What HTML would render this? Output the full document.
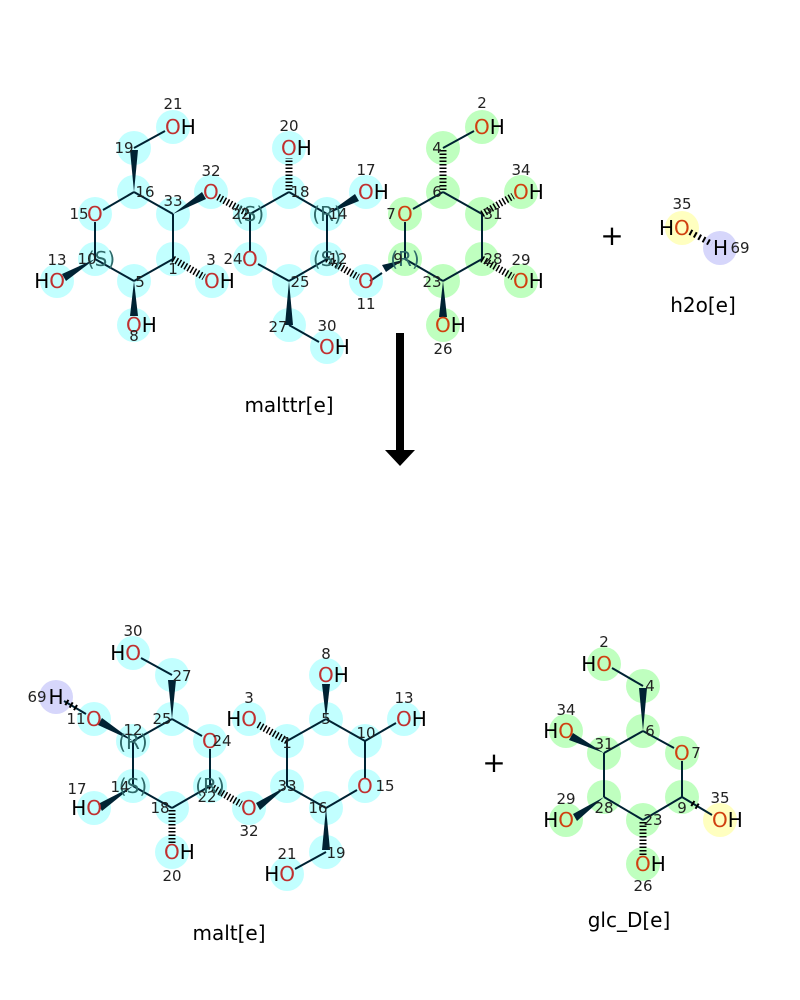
<!DOCTYPE html>
<html><head><meta charset="utf-8"><style>
body{margin:0;background:#fff}
svg{display:block}
text{font-family:"DejaVu Sans","Liberation Sans",sans-serif}
.n{font-size:15px;fill:#222;text-anchor:middle}
.a{font-size:20px;fill:#000}
.st{font-size:20px;fill:#2f6a6a;text-anchor:middle}
.o{fill:#c03030}
.og{fill:#d04010}
.c{fill:#c2ffff}
.g{fill:#bfffbf}
line,polyline{stroke:#023;stroke-width:2;fill:none}
.h{stroke:#000;stroke-width:7;stroke-dasharray:1.5 2}
polygon{fill:#023}
.t{font-size:20px;fill:#000;text-anchor:middle}
</style></head><body>
<svg width="800" height="1000" viewBox="0 0 800 1000">
<g class="c">
<circle cx="173" cy="127" r="17"/><circle cx="134" cy="148" r="17"/><circle cx="134" cy="192" r="17"/><circle cx="173" cy="214" r="17"/><circle cx="95" cy="214" r="17"/><circle cx="95" cy="259" r="17"/><circle cx="173" cy="259" r="17"/><circle cx="134" cy="281" r="17"/><circle cx="57" cy="281" r="17"/><circle cx="212" cy="281" r="17"/><circle cx="134" cy="325" r="17"/><circle cx="211" cy="192" r="17"/><circle cx="250" cy="214" r="17"/><circle cx="289" cy="192" r="17"/><circle cx="289" cy="148" r="17"/><circle cx="327" cy="214" r="17"/><circle cx="366" cy="192" r="17"/><circle cx="250" cy="259" r="17"/><circle cx="327" cy="259" r="17"/><circle cx="289" cy="281" r="17"/><circle cx="366" cy="281" r="17"/><circle cx="289" cy="325" r="17"/><circle cx="327" cy="347" r="17"/>
</g>
<g class="g">
<circle cx="405" cy="214" r="17"/><circle cx="405" cy="259" r="17"/><circle cx="443" cy="192" r="17"/><circle cx="443" cy="148" r="17"/><circle cx="482" cy="127" r="17"/><circle cx="482" cy="214" r="17"/><circle cx="521" cy="192" r="17"/><circle cx="482" cy="259" r="17"/><circle cx="521" cy="281" r="17"/><circle cx="443" cy="281" r="17"/><circle cx="443" cy="325" r="17"/>
</g>
<circle cx="682" cy="228" r="17" fill="#ffffc0"/><circle cx="720" cy="248" r="17" fill="#d6d6fb"/>
<line x1="134" y1="148" x2="165" y2="131"/>
<line x1="134" y1="192" x2="173" y2="214"/><line x1="134" y1="192" x2="103" y2="210"/>
<line x1="95" y1="222" x2="95" y2="259"/><line x1="95" y1="259" x2="134" y2="281"/>
<line x1="134" y1="281" x2="173" y2="259"/><line x1="173" y1="259" x2="173" y2="214"/>
<line x1="250" y1="214" x2="289" y2="192"/><line x1="250" y1="214" x2="250" y2="251"/>
<line x1="289" y1="192" x2="327" y2="214"/><line x1="327" y1="214" x2="327" y2="259"/>
<line x1="258" y1="264" x2="289" y2="281"/><line x1="289" y1="281" x2="327" y2="259"/>
<line x1="289" y1="325" x2="319" y2="342"/>
<line x1="405" y1="222" x2="405" y2="259"/><line x1="413" y1="209" x2="443" y2="192"/>
<line x1="443" y1="148" x2="474" y2="131"/><line x1="443" y1="192" x2="482" y2="214"/>
<line x1="482" y1="214" x2="482" y2="259"/><line x1="482" y1="259" x2="443" y2="281"/><line x1="443" y1="281" x2="405" y2="259"/>
<polygon points="134,192 130,150 138,150"/>
<polygon points="173,214 202,192 206,199"/>
<polygon points="95,259 62,274 66,281"/>
<polygon points="134,281 130,316 138,316"/>
<polygon points="327,214 355,194 359,201"/>
<polygon points="289,281 285,325 293,325"/>
<polygon points="403,260 382,265 386,272"/>
<polygon points="443,281 439,317 447,317"/>
<line class="h" x1="218" y1="197" x2="247" y2="213"/>
<line class="h" x1="289" y1="190" x2="289" y2="158"/>
<line class="h" x1="173" y1="259" x2="204" y2="277"/>
<line class="h" x1="443" y1="190" x2="443" y2="150"/>
<line class="h" x1="482" y1="214" x2="513" y2="196"/>
<line class="h" x1="482" y1="259" x2="513" y2="277"/>
<line class="h" x1="327" y1="259" x2="358" y2="277"/>
<line x1="370" y1="281" x2="382" y2="273"/>
<line class="h" x1="690" y1="232" x2="712" y2="244" style="stroke-width:6;stroke-dasharray:2 3"/>
<g class="a">
<text x="165" y="134"><tspan class="o">O</tspan>H</text>
<text x="87" y="221" class="o">O</text>
<text x="65" y="288" text-anchor="end">H<tspan class="o">O</tspan></text>
<text x="204" y="288"><tspan class="o">O</tspan>H</text>
<text x="126" y="332"><tspan class="o">O</tspan>H</text>
<text x="203" y="199" class="o">O</text>
<text x="281" y="155"><tspan class="o">O</tspan>H</text>
<text x="358" y="199"><tspan class="o">O</tspan>H</text>
<text x="242" y="266" class="o">O</text>
<text x="358" y="288" class="o">O</text>
<text x="319" y="354"><tspan class="o">O</tspan>H</text>
<text x="474" y="134"><tspan class="og">O</tspan>H</text>
<text x="397" y="221" class="og">O</text>
<text x="513" y="199"><tspan class="og">O</tspan>H</text>
<text x="513" y="288"><tspan class="og">O</tspan>H</text>
<text x="435" y="332"><tspan class="og">O</tspan>H</text>
<text x="674" y="235" text-anchor="end">H</text><text x="674" y="235" class="og">O</text>
<text x="713" y="255">H</text>
</g>
<g class="st">
<text x="101" y="266">(S)</text><text x="250" y="221">(S)</text><text x="327" y="221">(R)</text><text x="327" y="266">(S)</text><text x="405" y="266">(R)</text>
</g>
<g class="n">
<text x="173" y="109">21</text><text x="124" y="153">19</text><text x="145" y="197">16</text><text x="173" y="206">33</text><text x="79" y="219">15</text><text x="87" y="264">10</text><text x="57" y="265">13</text><text x="173" y="274">1</text><text x="211" y="265">3</text><text x="140" y="287">5</text><text x="134" y="341">8</text><text x="211" y="176">32</text><text x="241" y="219">22</text><text x="300" y="197">18</text><text x="289" y="131">20</text><text x="338" y="219">14</text><text x="366" y="175">17</text><text x="233" y="264">24</text><text x="338" y="264">12</text><text x="300" y="287">25</text><text x="366" y="309">11</text><text x="278" y="332">27</text><text x="327" y="331">30</text>
<text x="482" y="108">2</text><text x="437" y="153">4</text><text x="437" y="197">6</text><text x="521" y="175">34</text><text x="493" y="219">31</text><text x="391" y="219">7</text><text x="398" y="264">9</text><text x="493" y="264">28</text><text x="521" y="265">29</text><text x="432" y="287">23</text><text x="443" y="354">26</text><text x="682" y="209">35</text><text x="740" y="253">69</text>
</g>
<text class="t" x="612" y="245" style="font-size:28px">+</text>
<text class="t" x="289" y="412">malttr[e]</text>
<text class="t" x="703" y="312">h2o[e]</text>
<rect x="396" y="333" width="8" height="118" fill="#000"/>
<polygon points="385,450 415,450 400,466" style="fill:#000"/>
<g class="c">
<circle cx="133" cy="653" r="17"/><circle cx="172" cy="675" r="17"/><circle cx="94" cy="719" r="17"/><circle cx="172" cy="719" r="17"/><circle cx="133" cy="741" r="17"/><circle cx="210" cy="741" r="17"/><circle cx="133" cy="786" r="17"/><circle cx="210" cy="786" r="17"/><circle cx="172" cy="808" r="17"/><circle cx="94" cy="808" r="17"/><circle cx="172" cy="852" r="17"/><circle cx="249" cy="808" r="17"/><circle cx="249" cy="719" r="17"/><circle cx="287" cy="741" r="17"/><circle cx="326" cy="719" r="17"/><circle cx="326" cy="675" r="17"/><circle cx="365" cy="741" r="17"/><circle cx="404" cy="719" r="17"/><circle cx="287" cy="786" r="17"/><circle cx="326" cy="808" r="17"/><circle cx="365" cy="786" r="17"/><circle cx="326" cy="852" r="17"/><circle cx="287" cy="874" r="17"/>
</g>
<circle cx="56" cy="697" r="17" fill="#d6d6fb"/>
<g class="g">
<circle cx="604" cy="664" r="17"/><circle cx="643" cy="686" r="17"/><circle cx="643" cy="731" r="17"/><circle cx="604" cy="753" r="17"/><circle cx="566" cy="731" r="17"/><circle cx="682" cy="753" r="17"/><circle cx="682" cy="797" r="17"/><circle cx="604" cy="797" r="17"/><circle cx="566" cy="820" r="17"/><circle cx="643" cy="820" r="17"/><circle cx="643" cy="864" r="17"/>
</g>
<circle cx="720" cy="820" r="17" fill="#ffffc0"/>
<line x1="141" y1="658" x2="172" y2="675"/>
<line x1="172" y1="719" x2="133" y2="741"/><line x1="172" y1="719" x2="202" y2="736"/>
<line x1="210" y1="749" x2="210" y2="786"/><line x1="133" y1="741" x2="133" y2="786"/>
<line x1="133" y1="786" x2="172" y2="808"/><line x1="172" y1="808" x2="210" y2="786"/>
<line x1="287" y1="786" x2="287" y2="741"/><line x1="287" y1="741" x2="326" y2="719"/><line x1="326" y1="719" x2="365" y2="741"/>
<line x1="365" y1="741" x2="396" y2="723"/><line x1="365" y1="741" x2="365" y2="778"/><line x1="357" y1="790" x2="326" y2="808"/>
<line x1="287" y1="786" x2="326" y2="808"/><line x1="326" y1="852" x2="295" y2="869"/>
<line x1="64" y1="701" x2="86" y2="714"/>
<polygon points="172,719 168,680 176,680"/>
<polygon points="133,741 102,718 98,725"/>
<polygon points="133,786 98,804 102,811"/>
<polygon points="287,786 256,803 260,810"/>
<polygon points="326,719 322,684 330,684"/>
<polygon points="326,808 322,850 330,850"/>
<line class="h" x1="172" y1="810" x2="172" y2="843"/>
<line class="h" x1="210" y1="786" x2="241" y2="804"/>
<line class="h" x1="287" y1="741" x2="257" y2="724"/>
<line class="h" x1="66" y1="702" x2="78" y2="709" style="stroke-width:6;stroke-dasharray:2 3"/>
<line x1="612" y1="668" x2="643" y2="686"/>
<line x1="643" y1="731" x2="604" y2="753"/><line x1="643" y1="731" x2="674" y2="748"/>
<line x1="604" y1="753" x2="604" y2="797"/><line x1="604" y1="797" x2="643" y2="820"/><line x1="643" y1="820" x2="682" y2="797"/><line x1="682" y1="797" x2="682" y2="761"/>
<line x1="682" y1="797" x2="712" y2="815"/>
<polygon points="643,731 639,688 647,688"/>
<polygon points="604,753 573,733 569,740"/>
<polygon points="604,797 573,814 577,821"/>
<line class="h" x1="643" y1="822" x2="643" y2="856"/>
<line class="h" x1="692" y1="803" x2="700" y2="808" style="stroke-width:6;stroke-dasharray:2 3"/>
<g class="a">
<text x="141" y="660" text-anchor="end">H<tspan class="o">O</tspan></text>
<text x="56" y="704" text-anchor="middle">H</text>
<text x="86" y="726" class="o">O</text>
<text x="202" y="748" class="o">O</text>
<text x="102" y="815" text-anchor="end">H<tspan class="o">O</tspan></text>
<text x="164" y="859"><tspan class="o">O</tspan>H</text>
<text x="241" y="815" class="o">O</text>
<text x="257" y="726" text-anchor="end">H<tspan class="o">O</tspan></text>
<text x="318" y="682"><tspan class="o">O</tspan>H</text>
<text x="396" y="726"><tspan class="o">O</tspan>H</text>
<text x="357" y="793" class="o">O</text>
<text x="295" y="881" text-anchor="end">H<tspan class="o">O</tspan></text>
<text x="612" y="671" text-anchor="end">H<tspan class="og">O</tspan></text>
<text x="574" y="738" text-anchor="end">H<tspan class="og">O</tspan></text>
<text x="674" y="760" class="og">O</text>
<text x="574" y="827" text-anchor="end">H<tspan class="og">O</tspan></text>
<text x="635" y="871"><tspan class="og">O</tspan>H</text>
<text x="712" y="827"><tspan class="og">O</tspan>H</text>
</g>
<g class="st">
<text x="133" y="749">(R)</text><text x="133" y="793">(S)</text><text x="210" y="793">(R)</text>
</g>
<g class="n">
<text x="133" y="636">30</text><text x="182" y="681">27</text><text x="37" y="702">69</text><text x="76" y="724">11</text><text x="162" y="724">25</text><text x="133" y="735">12</text><text x="222" y="746">24</text><text x="77" y="794">17</text><text x="120" y="792">14</text><text x="160" y="813">18</text><text x="207" y="802">22</text><text x="172" y="881">20</text><text x="249" y="836">32</text><text x="249" y="703">3</text><text x="287" y="748">1</text><text x="326" y="724">5</text><text x="326" y="659">8</text><text x="404" y="703">13</text><text x="366" y="738">10</text><text x="287" y="791">33</text><text x="318" y="813">16</text><text x="385" y="791">15</text><text x="336" y="858">19</text><text x="287" y="859">21</text>
<text x="604" y="647">2</text><text x="650" y="691">4</text><text x="650" y="736">6</text><text x="566" y="715">34</text><text x="604" y="749">31</text><text x="696" y="758">7</text><text x="682" y="813">9</text><text x="720" y="803">35</text><text x="566" y="804">29</text><text x="604" y="813">28</text><text x="653" y="825">23</text><text x="643" y="891">26</text>
</g>
<text class="t" x="494" y="772" style="font-size:28px">+</text>
<text class="t" x="229" y="940">malt[e]</text>
<text class="t" x="629" y="927">glc_D[e]</text>
</svg>
</body></html>
